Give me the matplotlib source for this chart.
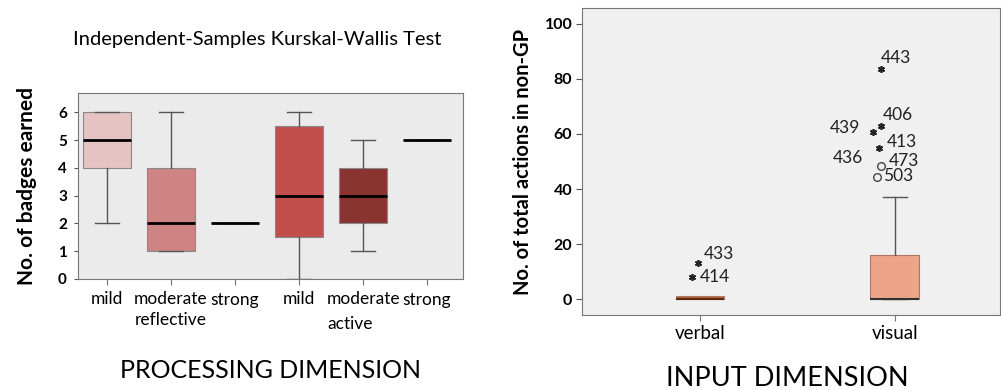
import matplotlib
matplotlib.use("Agg")
import matplotlib.pyplot as plt
import matplotlib.transforms as mtransforms

plt.rcParams['font.family'] = ['Lato', 'DejaVu Sans']

proc_ticks = ["mild", "moderate", "strong", "mild", "moderate", "strong"]
proc_groups = ["reflective", "active"]
proc_lo = [2, 1, 2, 0, 1, 5]
proc_q1 = [4, 1, 2, 1.5, 2, 5]
proc_med = [5, 2, 2, 3, 3, 5]
proc_q3 = [6, 4, 2, 5.5, 4, 5]
proc_hi = [6, 6, 2, 6, 5, 5]
proc_colors = ["#e6c3c3", "#cd8482", "#cd8482", "#c24f4c", "#8a3431", "#8a3431"]

# right panel: input dimension
inp_ticks = ["verbal", "visual"]
inp_lo = [0, 0]
inp_q1 = [0, 0]
inp_med = [0, 0]
inp_q3 = [1, 16]
inp_hi = [1, 37]
inp_colors = ["#c4652c", "#eea487"]
# outliers: (group index, value, case label, marker)
out_group = [0, 0, 1, 1, 1, 1, 1, 1]
out_value = [13, 8, 83.5, 63, 60.8, 55, 48.4, 44.5]
out_case = ["433", "414", "443", "406", "439", "413", "473", "503"]
out_marker = ["*", "*", "*", "*", "*", "*", "o", "o"]
extra_label = "436"
extra_value = 51.4

W, H = 1001, 390
fig = plt.figure(figsize=(W / 100, H / 100), dpi=100)


def px_axes(x0, y0, x1, y1):
    return fig.add_axes([x0 / W, 1 - y1 / H, (x1 - x0) / W, (y1 - y0) / H])


def stats(lo, q1, med, q3, hi):
    return [dict(whislo=a, q1=b, med=c, q3=d, whishi=e, fliers=[])
            for a, b, c, d, e in zip(lo, q1, med, q3, hi)]


# ---- left
ax1 = px_axes(78, 93, 463, 279)
ax1.set_facecolor("#ebebeb")
pos1 = list(range(1, len(proc_ticks) + 1))
b1 = ax1.bxp(stats(proc_lo, proc_q1, proc_med, proc_q3, proc_hi), positions=pos1,
             widths=0.74, patch_artist=True, showfliers=False,
             medianprops=dict(color="black", lw=2),
             whiskerprops=dict(color="#555555", lw=1),
             capprops=dict(color="#555555", lw=1),
             boxprops=dict(edgecolor="#888888", lw=0.8))
for patch, c in zip(b1["boxes"], proc_colors):
    patch.set_facecolor(c)
ax1.set_xlim(0.55, 6.56)
ax1.set_ylim(0, 6.7)
ax1.set_yticks(range(0, 7))
ax1.set_xticks(pos1)
ax1.set_xticklabels(proc_ticks, fontsize=12.5)
ax1.tick_params(axis="y", labelsize=11, length=3, color="#555555", pad=5)
ax1.tick_params(axis="x", length=4, color="#777777", pad=5)
for t in ax1.get_yticklabels():
    t.set_fontweight("bold")
for s in ax1.spines.values():
    s.set_color("#777777")
ax1.set_ylabel("No. of badges earned", fontsize=15, fontweight="bold", labelpad=15)
tr1 = mtransforms.blended_transform_factory(ax1.transData, ax1.transAxes)
ax1.text(2, -0.22, proc_groups[0], transform=tr1, ha="center", va="center", fontsize=12.5)
ax1.text(4.8, -0.24, proc_groups[1], transform=tr1, ha="center", va="center", fontsize=12.5)
fig.text(257 / W, 1 - 40 / H, "Independent-Samples Kurskal-Wallis Test",
         ha="center", va="center", fontsize=14.5)
fig.text(270 / W, 1 - 370 / H, "PROCESSING DIMENSION", ha="center", va="center", fontsize=18)

# ---- right
ax2 = px_axes(582, 8, 1000, 315)
ax2.set_facecolor("#f0f0f0")
pos2 = [1, 2]
b2 = ax2.bxp(stats(inp_lo, inp_q1, inp_med, inp_q3, inp_hi), positions=pos2,
             widths=0.25, patch_artist=True, showfliers=False,
             medianprops=dict(color="#333333", lw=1.5),
             whiskerprops=dict(color="#555555", lw=1),
             capprops=dict(color="#555555", lw=1),
             boxprops=dict(edgecolor="#aa7766", lw=0.8))
for patch, c in zip(b2["boxes"], inp_colors):
    patch.set_facecolor(c)
b2["medians"][0].set_color("#5a2a10")
b2["caps"][0].set_visible(False)
b2["caps"][1].set_visible(False)
ax2.set_xlim(0.395, 2.54)
ax2.set_ylim(-5.8, 105.8)
ax2.set_yticks(range(0, 101, 20))
ax2.set_xticks(pos2)
ax2.set_xticklabels(inp_ticks, fontsize=13.5)
ax2.tick_params(axis="y", labelsize=11.5, length=4, color="#555555", pad=3)
ax2.tick_params(axis="x", length=4, color="#777777", pad=3)
for t in ax2.get_yticklabels():
    t.set_fontweight("bold")
for s in ax2.spines.values():
    s.set_color("#777777")
ax2.set_ylabel("No. of total actions in non-GP", fontsize=14.5, fontweight="bold", labelpad=8)

# outlier marks and case labels (x nudges / label offsets are layout only)
mark_dx = [-0.01, -0.04, -0.07, -0.07, -0.11, -0.08, -0.07, -0.09]
lab_dx = [0.03, 0.04, 0.0, 0.01, -0.07, 0.04, 0.04, 0.03]
lab_dy = [3.5, 0, 4, 4, 1.5, 2.2, 1.8, 0.3]
lab_ha = ["left", "left", "left", "left", "right", "left", "left", "left"]
for g, v, name, m, dx, ldx, ldy, ha in zip(out_group, out_value, out_case, out_marker,
                                            mark_dx, lab_dx, lab_dy, lab_ha):
    x = pos2[g] + dx
    if m == "*":
        ax2.plot(x, v, marker=(6, 2, 0), ms=5, mew=1.2, color="#222222", ls="none")
    else:
        ax2.plot(x, v, marker="o", ms=5.5, mfc="none", mec="#444444", mew=1, ls="none")
    ax2.text(x + ldx, v + ldy, name, ha=ha, va="center", fontsize=12.5, color="#222222")
ax2.text(pos2[1] - 0.24, extra_value, extra_label, ha="center", va="center",
         fontsize=12.5, color="#222222")

fig.text(787 / W, 1 - 378 / H, "INPUT DIMENSION", ha="center", va="center", fontsize=19.5)

fig.savefig("out.png", dpi=100)
